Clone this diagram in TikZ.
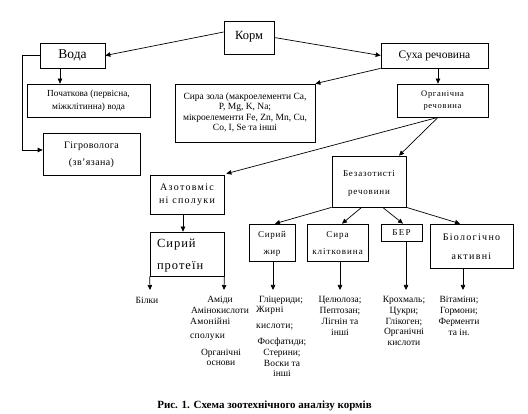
\documentclass[tikz,border=0pt]{standalone}
\usepackage{fontspec}
\setmainfont{Liberation Serif}
\usetikzlibrary{arrows.meta}
\newcommand{\lines}[2]{\raisebox{#1}{\begin{tabular}{@{}c@{}}#2\end{tabular}}}
\newcommand{\fnt}[3]{\fontsize{#1}{#2}\selectfont\addfontfeatures{LetterSpace=#3}}
\begin{document}
\begin{tikzpicture}[x=1pt,y=-1pt,
  box/.style={draw, line width=0.7pt, inner sep=0pt},
  conn/.style={line width=0.7pt, -{Triangle[length=5pt,width=4.5pt]}},
  lbl/.style={inner sep=0pt, align=center, font=\fontsize{9.5}{10.8}\selectfont},
  slbl/.style={inner sep=0pt, anchor=west, font={\fnt{9.5}{11}{3}}},
]
\useasboundingbox (0,0) rectangle (528,414);

% boxes
\node[box, minimum width=50pt, minimum height=33pt, font=\fontsize{12.5}{15}\selectfont] (korm) at (249,37.5) {\raisebox{4.5pt}{Корм}};
\node[box, minimum width=65pt, minimum height=25pt, font=\fontsize{13.5}{16}\selectfont] (voda) at (72.5,55.5) {Вода};
\node[box, minimum width=123pt, minimum height=33pt, font=\fontsize{9.3}{13}\selectfont] (poch) at (88.5,100.5) {\lines{0pt}{Початкова (первісна,\\міжклітинна) вода}};
\node[box, minimum width=97pt, minimum height=42pt, font={\fnt{10}{17}{4}}] (gigro) at (91.5,154) {\lines{0pt}{Гігроволога\\(зв’язана)}};
\node[box, minimum width=107pt, minimum height=25pt, font=\fontsize{11.5}{14}\selectfont] (sukha) at (434.5,55.5) {Суха речовина};
\node[box, minimum width=140pt, minimum height=58pt, font=\fontsize{9.5}{10.5}\selectfont] (zola) at (245,113) {\lines{4pt}{Сира зола (макроелементи Ca,\\P, Mg, K, Na;\\мікроелементи Fe, Zn, Mn, Cu,\\Co, I, Se та інші}};
\node[box, minimum width=91pt, minimum height=33pt, font={\fnt{8.5}{12}{8}}] (org) at (442.5,100.5) {\lines{0pt}{Органічна\\речовина}};
\node[box, minimum width=74pt, minimum height=51pt, font={\fnt{9}{18}{9}}] (bezaz) at (369,181.5) {\lines{6.5pt}{Безазотисті\\речовини}};
\node[box, minimum width=74pt, minimum height=39pt, font={\fnt{10}{13}{13}}] (azot) at (187,194.5) {\lines{3pt}{Азотовміс\\ні сполуки}};
\node[box, minimum width=74pt, minimum height=44pt, font={\fnt{12.5}{22}{8}}] (prot) at (187,254) {\raisebox{-1pt}{\begin{tabular}{@{}p{60pt}@{}}Сирий\\протеїн\end{tabular}}};
\node[box, minimum width=46pt, minimum height=37pt, font={\fnt{9}{17}{8}}] (zhyr) at (272,242.5) {\lines{0pt}{Сирий\\жир}};
\node[box, minimum width=61pt, minimum height=37pt, font={\fnt{9}{17}{11}}] (klit) at (337.5,242.5) {\lines{0pt}{Сира\\клітковина}};
\node[box, minimum width=41pt, minimum height=17pt, font={\fnt{9}{11}{14}}] (ber) at (401.5,232.5) {БЕР};
\node[box, minimum width=83pt, minimum height=44pt, font={\fnt{10}{19}{13}}] (bio) at (471.5,246) {\lines{1.5pt}{Біологічно\\активні}};

% labels under the boxes
\node[lbl] (bilky) at (147,300) {Білки};
\node[lbl] (amidy) at (220,300) {Аміди};
\node[lbl] (amino) at (220,310) {Амінокислоти};
\node[slbl] (amon) at (190,321) {Амонійні};
\node[slbl] (spol) at (190,337) {сполуки};
\node[lbl] (orgos) at (221,357.5) {Органічні\\основи};
\node[lbl] (glic) at (281,300) {Гліцериди;};
\node[slbl] (zhyrni) at (256,310) {Жирні};
\node[slbl] (kysl) at (256,327) {кислоти;};
\node[lbl] (fosf) at (282,357.5) {Фосфатиди;\\Стерини;\\Воски та\\інші};
\node[lbl] (cel) at (340,316) {Целюлоза;\\Пептозан;\\Лігнін та\\інші};
\node[lbl] (kroh) at (404,321) {Крохмаль;\\Цукри;\\Глікоген;\\Органічні\\кислоти};
\node[lbl] (vit) at (459,316) {Вітаміни;\\Гормони;\\Ферменти\\та ін.};

\node[inner sep=0pt, font=\fontsize{11}{13}\selectfont\bfseries] (cap) at (264.5,406) {Рис. 1. Схема зоотехнічного аналізу кормів};

% arrow tips above the labels
\coordinate (tb) at (150,290);
\coordinate (ta) at (224,290);
\coordinate (tz) at (273,290);
\coordinate (tk) at (340,290);
\coordinate (tr) at (406,290);
\coordinate (tv) at (463,290);

% connectors
\draw[conn] ([yshift=5.5pt]korm.west) -- (voda.east);
\draw[conn] (korm.east) -- (sukha.west);
\draw[conn] ([xshift=-12.5pt]voda.south) -- ([xshift=-28.5pt]poch.north);
\draw[conn] (voda.west) -- ++(-17,0) |- ([yshift=4pt]gigro.west);
\draw[conn] (sukha.south west) -- (zola.north east);
\draw[conn] ([xshift=3.5pt]sukha.south) -- ([xshift=-4.5pt]org.north);
\draw[conn] ([xshift=-4.5pt]org.south) -- ([xshift=2pt,yshift=1pt]azot.north east);
\draw[conn] ([xshift=-4.5pt]org.south) -- ([xshift=30pt]bezaz.north);
\draw[conn] ([xshift=-4pt]azot.south) -- ([xshift=-4pt]prot.north);
\draw[conn] (bezaz.south west) -- ([xshift=3pt]zhyr.north);
\draw[conn] ([xshift=30pt]bezaz.south west) -- ([xshift=4.5pt]klit.north);
\draw[conn] ([xshift=51pt]bezaz.south west) -- ([xshift=1.5pt]ber.north);
\draw[conn] (bezaz.south east) -- ([xshift=-11.5pt]bio.north);
\draw[conn] (prot.south west) -- (tb);
\draw[conn] (prot.south east) -- (ta);
\draw[conn] ([xshift=1pt]zhyr.south) -- (tz);
\draw[conn] ([xshift=2.5pt]klit.south) -- (tk);
\draw[conn] ([xshift=4.5pt]ber.south) -- (tr);
\draw[conn] ([xshift=-8.5pt]bio.south) -- (tv);
\end{tikzpicture}
\end{document}
